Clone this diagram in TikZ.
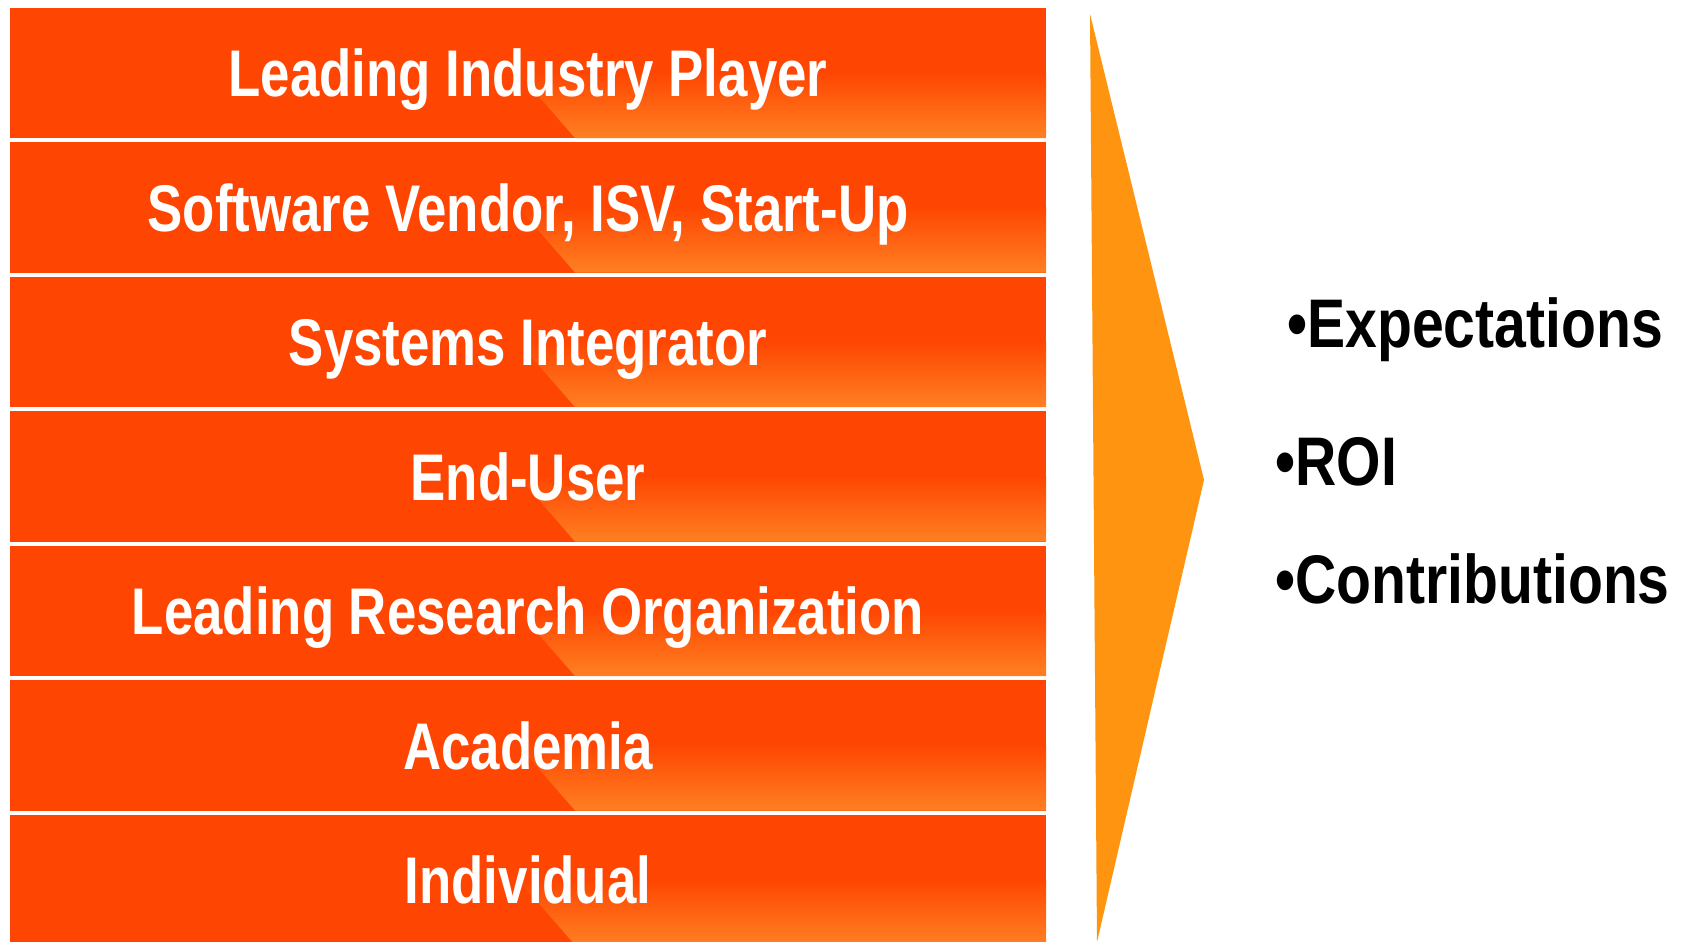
\documentclass[tikz,border=0pt]{standalone}
\usepackage{fontspec}
\setmainfont{Liberation Sans}[FakeStretch=0.8]
\newfontfamily\goalfont{Liberation Sans}[FakeStretch=0.83]
\definecolor{bandred}{RGB}{254,70,2}
\definecolor{bandlight}{RGB}{255,128,34}
\definecolor{arroworange}{RGB}{254,148,16}

\begin{document}
\begin{tikzpicture}[x=0.5pt,y=-0.5pt,
  band/.style={fill=bandred},
  glow/.style={top color=bandred,bottom color=bandlight},
  bandtext/.style={anchor=base,text=white,inner sep=0pt,font=\fontsize{33}{36}\selectfont\bfseries},
  goal/.style={anchor=base west,inner sep=0pt,font=\goalfont\fontsize{34.4}{38}\selectfont\bfseries}]
\useasboundingbox (0,0) rectangle (1686,942);
\clip (0,0) rectangle (1686,942);
% stacked partner bands
\foreach \name/\txt [count=\i from 0] in {player/Leading Industry Player,
    vendor/{Software Vendor, ISV, Start-Up}, integrator/Systems Integrator,
    enduser/End-User, research/Leading Research Organization,
    academia/Academia, individual/Individual}{
  \pgfmathsetmacro\bandtop{7.5+134.5*\i}
  \pgfmathsetmacro\bandmid{\bandtop+65}
  \pgfmathsetmacro\bandbot{\bandtop+130.5}
  \path[band] (10,\bandtop) rectangle (1046,\bandbot);
  \path[glow] (518,\bandmid) -- (1046,\bandmid) -- (1046,\bandbot) -- (575,\bandbot) -- cycle;
  \node[bandtext] (\name) at (528,\bandmid+24) {\txt};
}
% chevron
\fill[arroworange] (1090,14) -- (1204,480) -- (1097,942) -- cycle;
% what each partner brings
\node[goal] (expect) at (1287,347) {•Expectations};
\node[goal] (roi) at (1275,485) {•ROI};
\node[goal] (contrib) at (1275,603) {•Contributions};
\end{tikzpicture}
\end{document}
